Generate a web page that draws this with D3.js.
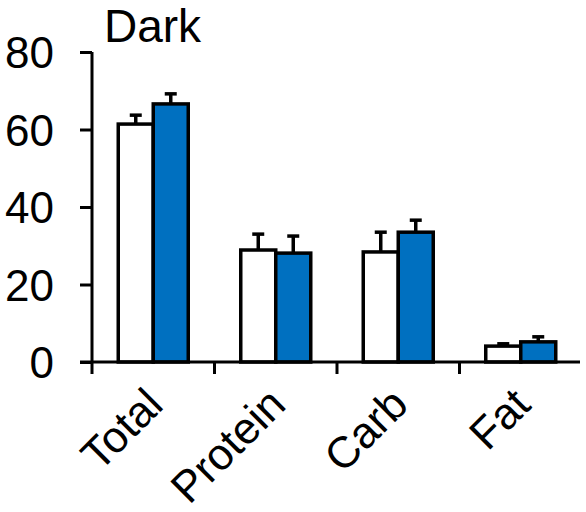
<!DOCTYPE html>
<html><head><meta charset="utf-8">
<script src="https://cdn.jsdelivr.net/npm/d3@7/dist/d3.min.js"></script>
<style>body{margin:0;background:#fff}svg{display:block}</style>
</head><body>
<svg id="c" width="586" height="512"></svg>
<script>
const categories = ["Total", "Protein", "Carb", "Fat"];
const seriesNames = ["Control", "Treated"];
const controlMeans = [61.4, 28.9, 28.4, 4.1];
const controlErr = [2.3, 4.1, 5.1, 0.6];
const treatedMeans = [66.6, 28.1, 33.5, 5.2];
const treatedErr = [2.6, 4.4, 3.1, 1.3];
const yTicks = [0, 20, 40, 60, 80];
const title = "Dark";

const fills = ["#ffffff", "#0070C0"];
const svg = d3.select("#c");
const font = "'Liberation Sans', Arial, sans-serif";

const y = d3.scaleLinear().domain([0, 80]).range([362, 52]);
const x = d3.scaleBand().domain(categories).range([92, 582]).padding(0);
const sub = d3.scaleBand().domain(seriesNames).range([-35, 35]).padding(0);

const data = [];
categories.forEach((c, i) => {
  data.push({cat: c, s: seriesNames[0], v: controlMeans[i], e: controlErr[i], fill: fills[0]});
  data.push({cat: c, s: seriesNames[1], v: treatedMeans[i], e: treatedErr[i], fill: fills[1]});
});

// error bars (behind bars)
const eg = svg.append("g").attr("stroke", "#000").attr("stroke-width", 3.5);
data.forEach(d => {
  const cx = x(d.cat) + x.bandwidth() / 2 + sub(d.s) + sub.bandwidth() / 2;
  eg.append("line").attr("x1", cx).attr("x2", cx).attr("y1", y(d.v)).attr("y2", y(d.v + d.e));
  eg.append("line").attr("x1", cx - 6).attr("x2", cx + 6).attr("y1", y(d.v + d.e)).attr("y2", y(d.v + d.e));
});

// bars
svg.append("g").selectAll("rect").data(data).join("rect")
  .attr("x", d => x(d.cat) + x.bandwidth() / 2 + sub(d.s))
  .attr("width", sub.bandwidth())
  .attr("y", d => y(d.v))
  .attr("height", d => y(0) - y(d.v))
  .attr("fill", d => d.fill)
  .attr("stroke", "#000")
  .attr("stroke-width", 3.5);

// y axis
const yAxis = svg.append("g").attr("transform", "translate(92,0)")
  .call(d3.axisLeft(y).tickValues(yTicks).tickSize(12).tickPadding(26));
yAxis.select(".domain").attr("stroke-width", 3).attr("d", `M0,${y(80)}V${y(0)}`);
yAxis.selectAll(".tick line").attr("stroke-width", 3);
yAxis.selectAll("text").attr("font-family", font).attr("font-size", 44).attr("fill", "#000")
  .attr("dy", "0.36em");

// x axis
svg.append("line").attr("x1", 80).attr("x2", 580).attr("y1", y(0)).attr("y2", y(0))
  .attr("stroke", "#000").attr("stroke-width", 3);
svg.append("g").selectAll("line").data(categories).join("line")
  .attr("x1", d => x(d)).attr("x2", d => x(d))
  .attr("y1", y(0)).attr("y2", y(0) + 12)
  .attr("stroke", "#000").attr("stroke-width", 3);

svg.append("g").selectAll("text").data(categories).join("text")
  .attr("transform", d => `translate(${x(d) + x.bandwidth() / 2 + 12},${y(0) + 45}) rotate(-45)`)
  .attr("text-anchor", "end")
  .attr("font-family", font).attr("font-size", 44)
  .text(d => d);

svg.append("text").attr("x", 104).attr("y", 42)
  .attr("font-family", font).attr("font-size", 46)
  .text(title);
</script>
</body></html>
